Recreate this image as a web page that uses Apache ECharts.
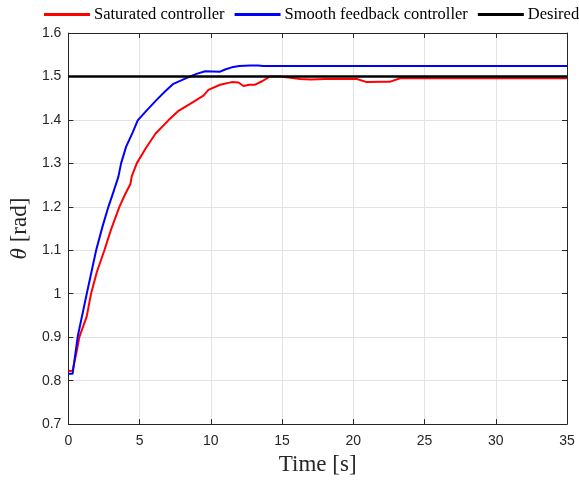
<!DOCTYPE html>
<html>
<head>
<meta charset="utf-8">
<script src="https://cdn.jsdelivr.net/npm/echarts@6/dist/echarts.min.js"></script>
<style>
  html, body { margin: 0; padding: 0; background: #fff; }
  #chart { width: 579px; height: 481px; }
</style>
</head>
<body>
<div id="chart"></div>
<script>
// time axis ticks and theta axis ticks
const timeTicks = [0, 5, 10, 15, 20, 25, 30, 35];
const thetaTicks = [0.7, 0.8, 0.9, 1, 1.1, 1.2, 1.3, 1.4, 1.5, 1.6];

// Saturated controller (red)
const satTime = [0, 0.3, 0.6, 0.77, 1.29, 1.59, 2.0, 2.53, 3.0, 3.58, 4.0, 4.35, 4.45, 4.8, 5.4, 6.11,
  7.02, 7.7, 8.55, 9.48, 9.83, 10.65, 11.47, 11.94, 12.29, 12.7, 13.11, 13.6, 14.16, 14.87, 15.6,
  16.27, 17.0, 18.0, 20.25, 20.95, 22.0, 22.6, 23.29, 35];
const satTheta = [0.822, 0.823, 0.87, 0.90, 0.948, 1.0, 1.05, 1.1, 1.148, 1.2, 1.23, 1.252, 1.27, 1.30, 1.333, 1.368,
  1.399, 1.42, 1.437, 1.456, 1.469, 1.481, 1.487, 1.486, 1.478, 1.481, 1.481, 1.489, 1.50, 1.50, 1.497,
  1.494, 1.493, 1.494, 1.494, 1.487, 1.488, 1.488, 1.496, 1.496];

// Smooth feedback controller (blue)
const smoothTime = [0, 0.3, 0.66, 1.29, 1.95, 2.4, 2.81, 3.2, 3.51, 3.7, 4.05, 4.5, 4.87, 5.39, 6.16,
  6.8, 7.37, 8.0, 8.55, 9.0, 9.6, 10.65, 11.0, 11.47, 12.0, 12.76, 13.3, 13.7, 35];
const smoothTheta = [0.816, 0.816, 0.902, 1.0, 1.1, 1.155, 1.2, 1.238, 1.269, 1.30, 1.338, 1.37, 1.399, 1.418, 1.445,
  1.466, 1.483, 1.492, 1.50, 1.506, 1.512, 1.511, 1.516, 1.521, 1.524, 1.525, 1.525, 1.524, 1.524];

// Desired (black)
const desiredTime = [0, 35];
const desiredTheta = [1.5, 1.5];

const zip = (xs, ys) => xs.map((x, i) => [x, ys[i]]);

const axisColor = '#262626';
const gridColor = '#e3e3e3';
const serif = 'Liberation Serif, Times New Roman, serif';
const tickFont = { color: axisColor, fontFamily: 'Liberation Sans, Arial, sans-serif', fontSize: 14 };

const chart = echarts.init(document.getElementById('chart'));

const xBase = {
  type: 'value', min: timeTicks[0], max: timeTicks[timeTicks.length - 1], interval: 5,
  axisLine: { show: true, onZero: false, lineStyle: { color: axisColor, width: 1 } },
  axisTick: { show: true, inside: true, length: 5, lineStyle: { color: axisColor } }
};
const yBase = {
  type: 'value', min: thetaTicks[0], max: thetaTicks[thetaTicks.length - 1], interval: 0.1,
  axisLine: { show: true, onZero: false, lineStyle: { color: axisColor, width: 1 } },
  axisTick: { show: true, inside: true, length: 5, lineStyle: { color: axisColor } }
};

chart.setOption({
  animation: false,
  backgroundColor: '#fff',
  grid: { left: 68, right: 12, top: 33, bottom: 56, containLabel: false },
  legend: {
    top: 6, left: 44, width: 620, padding: 0,
    icon: 'rect', itemWidth: 46, itemHeight: 3, itemGap: 10,
    textStyle: { fontFamily: serif, fontSize: 16.5, color: '#000', padding: [0, 0, 0, -1] },
    data: ['Saturated controller', 'Smooth feedback controller', 'Desired']
  },
  xAxis: [
    Object.assign({}, xBase, {
      position: 'bottom',
      name: 'Time [s]', nameLocation: 'middle', nameGap: 26,
      nameTextStyle: { fontFamily: serif, fontSize: 23, color: axisColor },
      axisLabel: Object.assign({ margin: 10, formatter: v => String(v) }, tickFont),
      splitLine: { show: true, lineStyle: { color: gridColor, width: 1 } }
    }),
    Object.assign({}, xBase, { position: 'top', axisLabel: { show: false }, splitLine: { show: false } })
  ],
  yAxis: [
    Object.assign({}, yBase, {
      position: 'left',
      name: '{i|θ} [rad]', nameLocation: 'middle', nameGap: 37, nameRotate: 90,
      nameTextStyle: {
        fontFamily: serif, fontSize: 23, color: axisColor,
        rich: { i: { fontFamily: serif, fontStyle: 'italic', fontSize: 23, color: axisColor } }
      },
      axisLabel: Object.assign({ margin: 7, formatter: v => String(Math.round(v * 10) / 10) }, tickFont),
      splitLine: { show: true, lineStyle: { color: gridColor, width: 1 } }
    }),
    Object.assign({}, yBase, { position: 'right', axisLabel: { show: false }, splitLine: { show: false } })
  ],
  series: [
    {
      name: 'Saturated controller', type: 'line', symbol: 'none',
      data: zip(satTime, satTheta),
      itemStyle: { color: '#ff0000' }, lineStyle: { color: '#ff0000', width: 2 }
    },
    {
      name: 'Smooth feedback controller', type: 'line', symbol: 'none',
      data: zip(smoothTime, smoothTheta),
      itemStyle: { color: '#0000ff' }, lineStyle: { color: '#0000ff', width: 2 }
    },
    {
      name: 'Desired', type: 'line', symbol: 'none',
      data: zip(desiredTime, desiredTheta),
      itemStyle: { color: '#000' }, lineStyle: { color: '#000', width: 2.5 }
    }
  ]
});
</script>
</body>
</html>
